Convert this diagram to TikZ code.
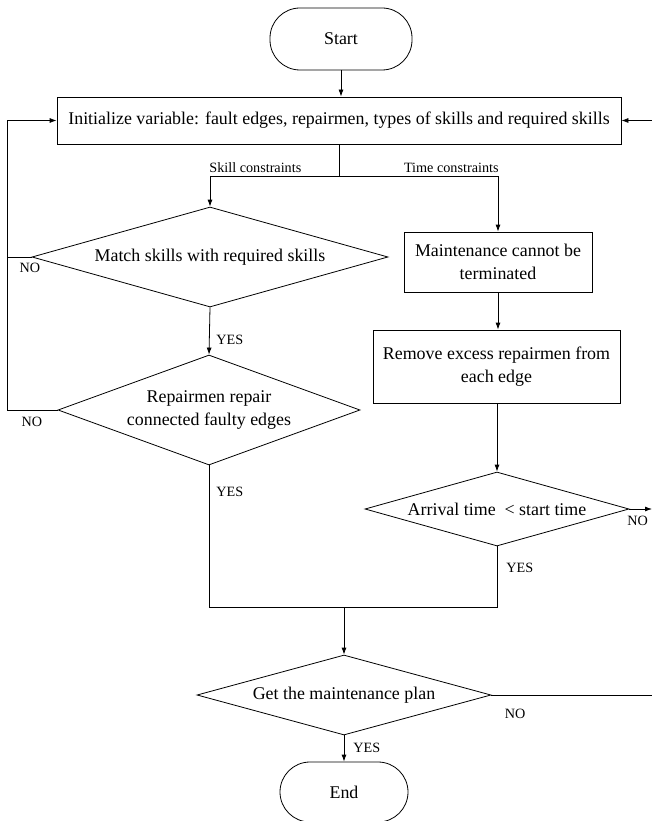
\documentclass[tikz,border=0pt]{standalone}
\usepackage{fontspec}
\setmainfont{Liberation Serif}
\usetikzlibrary{shapes.geometric,arrows.meta}
\begin{document}
\begin{tikzpicture}[x=1pt,y=-1pt,
  line width=0.8pt,
  arr/.style={-{Latex[length=7pt,width=5pt]}},
  txt/.style={font=\fontsize{17.9}{20.5}\selectfont,align=center,inner sep=0pt},
  lab/.style={font=\fontsize{14.2}{16}\selectfont,inner sep=0pt},
  term/.style={draw,rectangle,rounded corners=30pt,inner sep=0pt},
  proc/.style={draw,rectangle,inner sep=0pt},
  dia/.style={draw,diamond,inner sep=0pt}
]
\useasboundingbox (0,0) rectangle (652,821);
% terminals
\node[term,minimum width=142pt,minimum height=62pt] (start) at (341,39) {};
\node[txt] at (start) {Start};
\node[proc,minimum width=564pt,minimum height=47pt] (init) at (339,120.5) {};
\node[txt] at (init) {Initialize variable: fault edges, repairmen, types of skills and required skills};
% left branch
\node[dia,minimum width=356pt,minimum height=100pt] (d1) at (210,257) {};
\node[txt] at (d1) {Match skills with required skills};
\node[dia,minimum width=302pt,minimum height=110pt] (d2) at (209,410) {};
\node[txt] at (d2) {Repairmen repair\\[2pt]connected faulty edges};
% right branch
\node[proc,minimum width=188pt,minimum height=60pt] (m) at (498,262) {};
\node[txt] at (m) {Maintenance cannot be\\[2pt]terminated};
\node[proc,minimum width=247pt,minimum height=73pt] (r) at (496.5,366.5) {};
\node[txt] at (r) {Remove excess repairmen from\\[2pt]each edge};
\node[dia,minimum width=264pt,minimum height=74pt] (d3) at (497,509) {};
\node[txt] at (d3) {Arrival time\enspace{}< start time};
% bottom
\node[dia,minimum width=294pt,minimum height=80pt] (d4) at (344,695) {};
\node[txt] at (d4) {Get the maintenance plan};
\node[term,minimum width=128pt,minimum height=60pt] (end) at (344,792) {};
\node[txt] at (end) {End};
% coordinates
\coordinate (br) at (339,176);
\coordinate (bl) at (210,176);
\coordinate (mg) at (344,607);
\coordinate (lx) at (7,120.5);
\coordinate (rx) at (652,120.5);
\coordinate (n3) at (652,509);
\coordinate (n4) at (652,695);
% connectors
\draw[arr] (start.south) -- (start.south |- init.north);
\draw (init.south -| br) -- (br);
\draw[arr] (bl) |- (br) (bl) -- (d1.north);
\draw[arr] (br) -| (m.north);
\draw[arr] (d1.south) -- (d2.north);
\draw[arr] (m.south) -- (m.south |- r.north);
\draw[arr] (r.south -| d3.north) -- (d3.north);
\draw (d2.south) |- (mg) (d3.south) |- (mg);
\draw[arr] (mg) -- (d4.north);
\draw[arr] (d4.south) -- (end.north);
\draw[arr] (d1.west) -| (lx) -- (init.west);
\draw (d2.west) -| (lx);
\draw[arr] (rx) -- (init.east);
\draw[arr] (d3.east) -- (n3);
\draw (d4.east) -- (n4);
% labels
\node[lab,anchor=south west] at (209,173) {Skill constraints};
\node[lab,anchor=south east] at (499,173) {Time constraints};
\node[lab,anchor=west] at (216,340) {YES};
\node[lab,anchor=west] at (216,492) {YES};
\node[lab,anchor=west] at (506,568) {YES};
\node[lab,anchor=west] at (353,748) {YES};
\node[lab] at (30,268) {NO};
\node[lab] at (32,422) {NO};
\node[lab,anchor=west] at (627,521) {NO};
\node[lab] at (515,714) {NO};
\end{tikzpicture}
\end{document}
